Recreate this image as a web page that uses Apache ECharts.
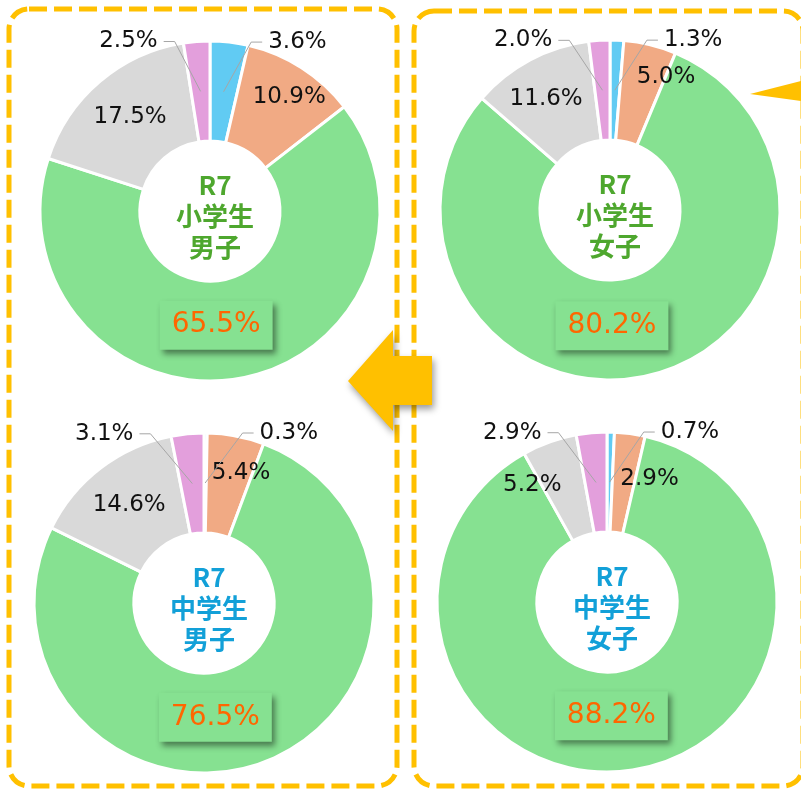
<!DOCTYPE html>
<html>
<head>
<meta charset="utf-8">
<script src="https://cdn.jsdelivr.net/npm/echarts@6/dist/echarts.min.js"></script>
<style>
  html, body { margin: 0; padding: 0; background: #ffffff; }
  #chart { width: 801px; height: 791px; }
</style>
</head>
<body>
<div id="chart"></div>
<script>
// slice order is clockwise from 12 o'clock
const sliceNames = ['区分A', '区分B', '区分C', '区分D', '区分E'];
const chartTitles = ['R7\n小学生\n男子', 'R7\n小学生\n女子', 'R7\n中学生\n男子', 'R7\n中学生\n女子'];
const elemBoys = [3.6, 10.9, 65.5, 17.5, 2.5];
const elemGirls = [1.3, 5.0, 80.2, 11.6, 2.0];
const juniorBoys = [0.3, 5.4, 76.5, 14.6, 3.1];
const juniorGirls = [0.7, 2.9, 88.2, 5.2, 2.9];

const sliceColors = ['#61CBF3', '#F1AA84', '#86E191', '#D9D9D9', '#E39FDC'];
const frameColor = '#FFC000';
const numFont = '"DejaVu Sans", Verdana, sans-serif';
const cjkFont = '"Noto Sans CJK JP", "Noto Sans", sans-serif';

// panel layout: pie center, title colour, leader length, small nudges for inside labels (index -> [dx, dy])
const panels = [
    { values: elemBoys, center: [210, 211], titleColor: '#4EA72E', leaderLen: 33, nudge: { 1: [13, -10], 2: [-15, -7] } },
    { values: elemGirls, center: [610, 210], titleColor: '#4EA72E', leaderLen: 41, nudge: { 1: [27, -13], 2: [-26, -4], 3: [-6, -2] } },
    { values: juniorBoys, center: [204, 603], titleColor: '#12A0D8', leaderLen: 48, nudge: { 1: [14, -9], 2: [-34, 0] } },
    { values: juniorGirls, center: [607, 602], titleColor: '#12A0D8', leaderLen: 44, nudge: { 1: [26, -1], 2: [-13, -8], 3: [-33, -1] } },
];

const pct = (p) => p.value.toFixed(1) + '%';
const isSmall = (i) => i === 0 || i === 4;

const greenLabel = {
    show: true,
    color: '#FF6600',
    fontSize: 28,
    lineHeight: 33,
    padding: [8, 12],
    backgroundColor: sliceColors[2],
    shadowColor: 'rgba(0,0,0,0.45)',
    shadowBlur: 6,
    shadowOffsetX: 3,
    shadowOffsetY: 4,
};

const series = [];
const titles = [];

panels.forEach((panel, k) => {
    // the ring itself, with inside labels
    series.push({
        type: 'pie',
        z: 2,
        center: panel.center,
        radius: [70, 170],
        startAngle: 90,
        silent: true,
        animation: false,
        avoidLabelOverlap: false,
        itemStyle: { borderColor: '#ffffff', borderWidth: 3 },
        label: {
            position: 'inside',
            fontFamily: numFont,
            fontSize: 23,
            color: '#111111',
            formatter: pct,
        },
        labelLine: { show: false },
        labelLayout: function (p) {
            const n = panel.nudge[p.dataIndex];
            if (!n) return {};
            return {
                x: p.labelRect.x + p.labelRect.width / 2 + n[0],
                y: p.labelRect.y + p.labelRect.height / 2 + n[1],
                align: 'center',
                verticalAlign: 'middle',
            };
        },
        data: panel.values.map((v, i) => ({
            name: sliceNames[i],
            value: v,
            itemStyle: { color: sliceColors[i] },
            label: isSmall(i) ? { show: false } : (i === 2 ? greenLabel : { show: true }),
        })),
    });

    // invisible pie out to the middle of the band, only for the leader-line labels of thin slices
    series.push({
        type: 'pie',
        z: 4,
        center: panel.center,
        radius: [0, 120],
        startAngle: 90,
        silent: true,
        animation: false,
        avoidLabelOverlap: false,
        itemStyle: { color: 'rgba(0,0,0,0)', borderWidth: 0 },
        label: {
            position: 'outside',
            fontFamily: numFont,
            fontSize: 23,
            color: '#111111',
            formatter: pct,
            distanceToLabelLine: 6,
        },
        labelLine: {
            length: 50,
            length2: panel.leaderLen,
            lineStyle: { color: '#A6A6A6', width: 1 },
        },
        // slant the first segment like the office-style leader lines
        labelLayout: function (p) {
            const pts = p.labelLinePoints;
            if (!pts || pts.length < 3) return {};
            const dir = pts[2][0] > pts[1][0] ? 1 : -1;
            return { labelLinePoints: [pts[0], [pts[2][0] - dir * 11, pts[1][1]], pts[2]] };
        },
        data: panel.values.map((v, i) => ({
            name: sliceNames[i],
            value: v,
            label: { show: isSmall(i) },
            labelLine: { show: isSmall(i) },
        })),
    });

    titles.push({
        text: chartTitles[k],
        left: panel.center[0],
        top: panel.center[1],
        textAlign: 'center',
        textVerticalAlign: 'middle',
        textStyle: {
            fontFamily: cjkFont,
            fontSize: 26,
            lineHeight: 31,
            fontWeight: 'bold',
            color: panel.titleColor,
        },
    });
});

const dashedFrame = (x, y, w, h) => ({
    type: 'rect',
    z: -10,
    shape: { x: x, y: y, width: w, height: h, r: 20 },
    style: { fill: null, stroke: frameColor, lineWidth: 5, lineDash: [18, 7] },
});

const chart = echarts.init(document.getElementById('chart'));
chart.setOption({
    backgroundColor: '#ffffff',
    animation: false,
    title: titles,
    series: series,
    graphic: [
        dashedFrame(9, 9, 388, 777),
        dashedFrame(414, 11, 389, 775),
        {
            // arrow between the two columns
            type: 'polygon',
            z: 10,
            shape: { points: [[348, 381], [393, 330], [393, 356], [432, 356], [432, 405], [393, 405], [393, 431]] },
            style: {
                fill: frameColor,
                shadowColor: 'rgba(0,0,0,0.4)',
                shadowBlur: 7,
                shadowOffsetX: 2,
                shadowOffsetY: 4,
            },
        },
        {
            // tip of an arrow entering from the right edge
            type: 'polygon',
            z: 10,
            shape: { points: [[750, 94], [801, 81], [801, 101]] },
            style: { fill: frameColor },
        },
    ],
});
</script>
</body>
</html>
